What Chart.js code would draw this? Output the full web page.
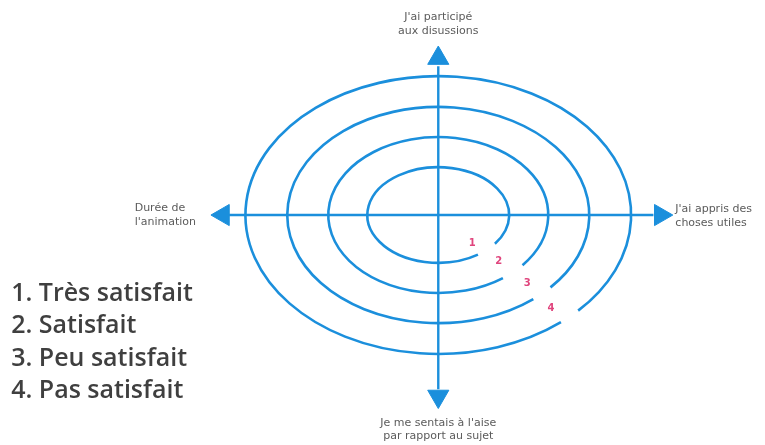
<!DOCTYPE html>
<html>
<head>
<meta charset="utf-8">
<script src="https://cdn.jsdelivr.net/npm/chart.js@4/dist/chart.umd.min.js"></script>
<style>
  html, body { margin: 0; padding: 0; background: #ffffff; }
  #wrap { width: 765px; height: 445px; }
</style>
</head>
<body>
<div id="wrap"><canvas id="c" width="765" height="445"></canvas></div>
<script>
// ---- data (axis units) ----
const axisTopLabel = ["J'ai participé", "aux disussions"];
const axisBottomLabel = ["Je me sentais à l'aise", "par rapport au sujet"];
const axisLeftLabel = ["Durée de", "l'animation"];
const axisRightLabel = ["J'ai appris des", "choses utiles"];
const levels = ["1", "2", "3", "4"];
const levelNames = ["Très satisfait", "Satisfait", "Peu satisfait", "Pas satisfait"];
const ringRadiusX = [1.78, 2.76, 3.79, 4.84];
const ringRadiusY = [1.60, 2.61, 3.62, 4.65];
const ringGapStart = [37, 40, 42, 43.5];   // degrees
const ringGapEnd = [56, 54, 51, 50.5];
const axisReach = { left: -5.25, right: 5.4, top: 4.98, bottom: -5.83 };
const arrowTip = { left: -5.4, right: 5.58, top: 5.25, bottom: -6.07 };

const BLUE = '#1b8fdc';

const diagramPlugin = {
  id: 'diagram',
  beforeDatasetsDraw(chart) {
    const { ctx, scales: { x, y } } = chart;
    const cx = x.getPixelForValue(0), cy = y.getPixelForValue(0);
    const ux = x.getPixelForValue(1) - cx, uy = cy - y.getPixelForValue(1);
    ctx.save();
    ctx.strokeStyle = BLUE;
    ctx.lineWidth = 2.6;
    ctx.lineCap = 'butt';
    ringRadiusX.forEach((rx, i) => {
      const ry = ringRadiusY[i];
      const a0 = ringGapEnd[i] * Math.PI / 180;
      const a1 = (ringGapStart[i] + 360) * Math.PI / 180;
      ctx.beginPath();
      ctx.ellipse(cx, cy, rx * ux, ry * uy, 0, a0, a1);
      ctx.stroke();
    });
    ctx.restore();
  },
  afterDatasetsDraw(chart) {
    const { ctx, scales: { x, y } } = chart;
    const cx = x.getPixelForValue(0), cy = y.getPixelForValue(0);
    ctx.save();
    // level numbers between rings, at the gap angle
    ctx.fillStyle = '#e0457d';
    ctx.font = 'bold 10px "DejaVu Sans"';
    ctx.textAlign = 'center';
    ctx.textBaseline = 'middle';
    const innerX = 0.9, innerY = 0.85;
    const angShift = [4, 1, 0.5, 2];
    levels.forEach((lv, i) => {
      const prx = i === 0 ? innerX : ringRadiusX[i - 1];
      const pry = i === 0 ? innerY : ringRadiusY[i - 1];
      const mx = (prx + ringRadiusX[i]) / 2, my = (pry + ringRadiusY[i]) / 2;
      const ang = ((ringGapStart[i] + ringGapEnd[i]) / 2 + angShift[i]) * Math.PI / 180;
      ctx.fillText(lv, x.getPixelForValue(mx * Math.cos(ang)), y.getPixelForValue(-my * Math.sin(ang)));
    });
    // axis captions
    ctx.fillStyle = '#5b5b5b';
    ctx.font = '11px "DejaVu Sans"';
    const lh = 13.5;
    const drawLines = (lines, px, py, align) => {
      ctx.textAlign = align;
      lines.forEach((t, k) => ctx.fillText(t, px, py + (k - (lines.length - 1) / 2) * lh));
    };
    drawLines(axisTopLabel, cx, y.getPixelForValue(6.39), 'center');
    drawLines(axisBottomLabel, cx, y.getPixelForValue(-7.18), 'center');
    drawLines(axisLeftLabel, x.getPixelForValue(-7.62), cy, 'left');
    drawLines(axisRightLabel, x.getPixelForValue(5.95), cy + 1, 'left');
    // legend
    ctx.fillStyle = '#3f3f3f';
    ctx.font = '600 25px "Open Sans"';
    ctx.textAlign = 'left';
    const lx = x.getPixelForValue(-10.72);
    const ly = y.getPixelForValue(-2.64);
    levels.forEach((lv, i) => {
      ctx.fillText(lv + '. ' + levelNames[i], lx, ly + i * 32.4);
    });
    ctx.restore();
  }
};

const lineDs = (pts) => ({
  data: pts, showLine: true, borderColor: BLUE, borderWidth: 2.4,
  pointRadius: 0, pointHoverRadius: 0, clip: false, fill: false
});
const arrowDs = (pt, rot) => ({
  data: [pt], showLine: false, pointStyle: 'triangle', pointRadius: 12.2,
  rotation: rot, backgroundColor: BLUE, borderColor: BLUE, borderWidth: 1,
  pointHoverRadius: 12.2, clip: false
});

new Chart(document.getElementById('c'), {
  type: 'scatter',
  data: {
    datasets: [
      lineDs([{ x: axisReach.left, y: 0 }, { x: axisReach.right, y: 0 }]),
      lineDs([{ x: 0, y: axisReach.bottom }, { x: 0, y: axisReach.top }]),
      arrowDs({ x: arrowTip.left, y: 0 }, 270),
      arrowDs({ x: arrowTip.right, y: 0 }, 90),
      arrowDs({ x: 0, y: arrowTip.top }, 0),
      arrowDs({ x: 0, y: arrowTip.bottom }, 180)
    ]
  },
  options: {
    responsive: false,
    animation: false,
    events: [],
    layout: { padding: 0, autoPadding: false },
    plugins: { legend: { display: false }, tooltip: { enabled: false } },
    scales: {
      x: { type: 'linear', min: -11, max: 8.2, display: false },
      y: { type: 'linear', min: -7.7, max: 7.2, display: false }
    }
  },
  plugins: [diagramPlugin]
});
</script>
</body>
</html>
